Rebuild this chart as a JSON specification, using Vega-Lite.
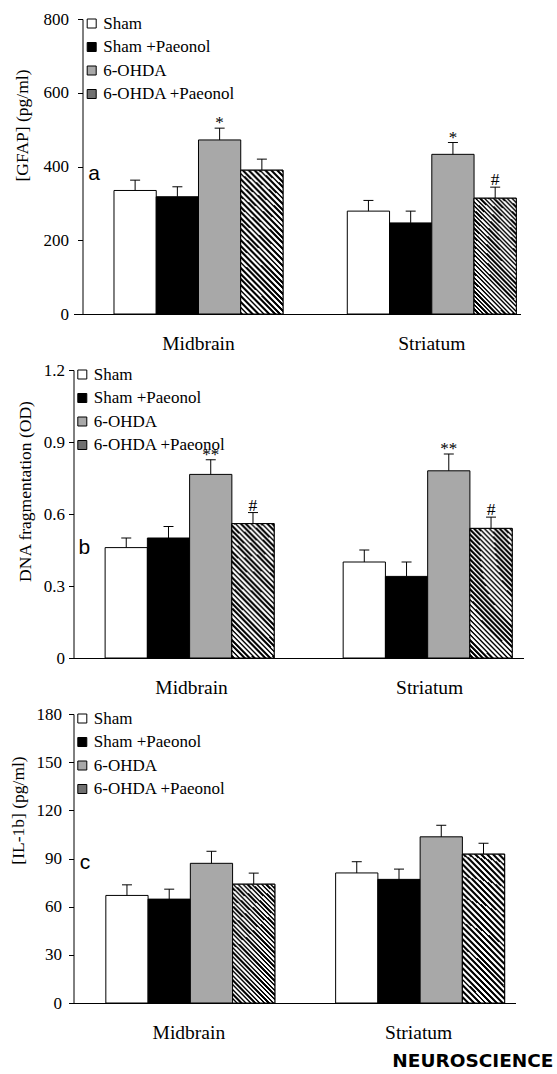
{
"$schema": "https://vega.github.io/schema/vega-lite/v6.json",
"background": "white",
"padding": {"left": 9.5, "top": 10, "right": 0, "bottom": 0},
"spacing": 8,
"datasets": {
"gfap": [
{"region":"Midbrain","group":"Sham","mean":335,"upper":363,"sig":""},
{"region":"Midbrain","group":"Sham +Paeonol","mean":318,"upper":345,"sig":""},
{"region":"Midbrain","group":"6-OHDA","mean":472,"upper":504,"sig":"*"},
{"region":"Midbrain","group":"6-OHDA +Paeonol","mean":390,"upper":420,"sig":""},
{"region":"Striatum","group":"Sham","mean":279,"upper":308,"sig":""},
{"region":"Striatum","group":"Sham +Paeonol","mean":247,"upper":279,"sig":""},
{"region":"Striatum","group":"6-OHDA","mean":433,"upper":465,"sig":"*"},
{"region":"Striatum","group":"6-OHDA +Paeonol","mean":314,"upper":344,"sig":"#"}
],
"dna": [
{"region":"Midbrain","group":"Sham","mean":0.46,"upper":0.50,"sig":""},
{"region":"Midbrain","group":"Sham +Paeonol","mean":0.50,"upper":0.548,"sig":""},
{"region":"Midbrain","group":"6-OHDA","mean":0.765,"upper":0.826,"sig":"**"},
{"region":"Midbrain","group":"6-OHDA +Paeonol","mean":0.56,"upper":0.606,"sig":"#"},
{"region":"Striatum","group":"Sham","mean":0.40,"upper":0.45,"sig":""},
{"region":"Striatum","group":"Sham +Paeonol","mean":0.34,"upper":0.40,"sig":""},
{"region":"Striatum","group":"6-OHDA","mean":0.78,"upper":0.85,"sig":"**"},
{"region":"Striatum","group":"6-OHDA +Paeonol","mean":0.54,"upper":0.587,"sig":"#"}
],
"il1b": [
{"region":"Midbrain","group":"Sham","mean":67,"upper":73.6,"sig":""},
{"region":"Midbrain","group":"Sham +Paeonol","mean":64.7,"upper":70.9,"sig":""},
{"region":"Midbrain","group":"6-OHDA","mean":87,"upper":94.5,"sig":""},
{"region":"Midbrain","group":"6-OHDA +Paeonol","mean":74,"upper":80.9,"sig":""},
{"region":"Striatum","group":"Sham","mean":81,"upper":88,"sig":""},
{"region":"Striatum","group":"Sham +Paeonol","mean":77,"upper":83.4,"sig":""},
{"region":"Striatum","group":"6-OHDA","mean":103.5,"upper":110.7,"sig":""},
{"region":"Striatum","group":"6-OHDA +Paeonol","mean":92.7,"upper":99.5,"sig":""}
]
},
"vconcat": [
{
"width": 447, "height": 295,
"data": {"name": "gfap"},
"encoding": {
"x": {"field": "region", "type": "nominal", "sort": ["Midbrain","Striatum"], "scale": {"paddingInner": 0.2756, "paddingOuter": 0.0958, "align": 0.906}, "axis": {"title": null, "labelAngle": 0, "ticks": false, "tickSize": 0, "labelPadding": 20, "labelFontSize": 19.5}},
"xOffset": {"field": "group", "type": "nominal", "sort": ["Sham","Sham +Paeonol","6-OHDA","6-OHDA +Paeonol"], "scale": {"paddingInner": 0, "paddingOuter": 0}}
},
"layer": [
{"mark": {"type": "bar", "stroke": "#000", "strokeWidth": 1, "opacity": 1},
"encoding": {
"y": {"field": "mean", "type": "quantitative", "scale": {"domain": [0, 800], "nice": false}, "axis": {"title": "[GFAP] (pg/ml)", "values": [0,200,400,600,800], "tickSize": 5, "labelPadding": 9, "titlePadding": 11.5, "titleY": 106, "offset": -9}},
"fill": {"field": "group", "type": "nominal", "scale": {"domain": ["Sham","Sham +Paeonol","6-OHDA","6-OHDA +Paeonol"], "range": ["#ffffff","#000000","#a8a8a8","#707070"]},
"legend": {"orient": "none", "legendX": 9.7, "legendY": -4, "title": null, "padding": 0, "symbolType": "square", "symbolSize": 81, "symbolStrokeColor": "#000", "symbolStrokeWidth": 1, "symbolOpacity": 1, "labelFont": "Liberation Serif", "labelFontSize": 17, "labelColor": "#000", "labelOffset": 3, "rowPadding": 5.5, "labelLimit": 0}}
}},
{"transform": [{"filter": "datum.group === '6-OHDA +Paeonol'"}], "mark": {"type": "bar", "stroke": "#000", "strokeWidth": 1, "fill": {"gradient": "radial", "x1": -20, "y1": 21, "r1": 28.45, "x2": -20, "y2": 21, "r2": 29.55, "stops": [
{"offset":0,"color":"#000"},{"offset":0.0125,"color":"#000"},{"offset":0.0125,"color":"#fff"},{"offset":0.025,"color":"#fff"},{"offset":0.025,"color":"#000"},{"offset":0.0375,"color":"#000"},{"offset":0.0375,"color":"#fff"},{"offset":0.05,"color":"#fff"},{"offset":0.05,"color":"#000"},{"offset":0.0625,"color":"#000"},{"offset":0.0625,"color":"#fff"},{"offset":0.075,"color":"#fff"},{"offset":0.075,"color":"#000"},{"offset":0.0875,"color":"#000"},{"offset":0.0875,"color":"#fff"},{"offset":0.1,"color":"#fff"},{"offset":0.1,"color":"#000"},{"offset":0.1125,"color":"#000"},{"offset":0.1125,"color":"#fff"},{"offset":0.125,"color":"#fff"},{"offset":0.125,"color":"#000"},{"offset":0.1375,"color":"#000"},{"offset":0.1375,"color":"#fff"},{"offset":0.15,"color":"#fff"},{"offset":0.15,"color":"#000"},{"offset":0.1625,"color":"#000"},{"offset":0.1625,"color":"#fff"},{"offset":0.175,"color":"#fff"},{"offset":0.175,"color":"#000"},{"offset":0.1875,"color":"#000"},{"offset":0.1875,"color":"#fff"},{"offset":0.2,"color":"#fff"},{"offset":0.2,"color":"#000"},{"offset":0.2125,"color":"#000"},{"offset":0.2125,"color":"#fff"},{"offset":0.225,"color":"#fff"},{"offset":0.225,"color":"#000"},{"offset":0.2375,"color":"#000"},{"offset":0.2375,"color":"#fff"},{"offset":0.25,"color":"#fff"},{"offset":0.25,"color":"#000"},{"offset":0.2625,"color":"#000"},{"offset":0.2625,"color":"#fff"},{"offset":0.275,"color":"#fff"},{"offset":0.275,"color":"#000"},{"offset":0.2875,"color":"#000"},{"offset":0.2875,"color":"#fff"},{"offset":0.3,"color":"#fff"},{"offset":0.3,"color":"#000"},{"offset":0.3125,"color":"#000"},{"offset":0.3125,"color":"#fff"},{"offset":0.325,"color":"#fff"},{"offset":0.325,"color":"#000"},{"offset":0.3375,"color":"#000"},{"offset":0.3375,"color":"#fff"},{"offset":0.35,"color":"#fff"},{"offset":0.35,"color":"#000"},{"offset":0.3625,"color":"#000"},{"offset":0.3625,"color":"#fff"},{"offset":0.375,"color":"#fff"},{"offset":0.375,"color":"#000"},{"offset":0.3875,"color":"#000"},{"offset":0.3875,"color":"#fff"},{"offset":0.4,"color":"#fff"},{"offset":0.4,"color":"#000"},{"offset":0.4125,"color":"#000"},{"offset":0.4125,"color":"#fff"},{"offset":0.425,"color":"#fff"},{"offset":0.425,"color":"#000"},{"offset":0.4375,"color":"#000"},{"offset":0.4375,"color":"#fff"},{"offset":0.45,"color":"#fff"},{"offset":0.45,"color":"#000"},{"offset":0.4625,"color":"#000"},{"offset":0.4625,"color":"#fff"},{"offset":0.475,"color":"#fff"},{"offset":0.475,"color":"#000"},{"offset":0.4875,"color":"#000"},{"offset":0.4875,"color":"#fff"},{"offset":0.5,"color":"#fff"},{"offset":0.5,"color":"#000"},{"offset":0.5125,"color":"#000"},{"offset":0.5125,"color":"#fff"},{"offset":0.525,"color":"#fff"},{"offset":0.525,"color":"#000"},{"offset":0.5375,"color":"#000"},{"offset":0.5375,"color":"#fff"},{"offset":0.55,"color":"#fff"},{"offset":0.55,"color":"#000"},{"offset":0.5625,"color":"#000"},{"offset":0.5625,"color":"#fff"},{"offset":0.575,"color":"#fff"},{"offset":0.575,"color":"#000"},{"offset":0.5875,"color":"#000"},{"offset":0.5875,"color":"#fff"},{"offset":0.6,"color":"#fff"},{"offset":0.6,"color":"#000"},{"offset":0.6125,"color":"#000"},{"offset":0.6125,"color":"#fff"},{"offset":0.625,"color":"#fff"},{"offset":0.625,"color":"#000"},{"offset":0.6375,"color":"#000"},{"offset":0.6375,"color":"#fff"},{"offset":0.65,"color":"#fff"},{"offset":0.65,"color":"#000"},{"offset":0.6625,"color":"#000"},{"offset":0.6625,"color":"#fff"},{"offset":0.675,"color":"#fff"},{"offset":0.675,"color":"#000"},{"offset":0.6875,"color":"#000"},{"offset":0.6875,"color":"#fff"},{"offset":0.7,"color":"#fff"},{"offset":0.7,"color":"#000"},{"offset":0.7125,"color":"#000"},{"offset":0.7125,"color":"#fff"},{"offset":0.725,"color":"#fff"},{"offset":0.725,"color":"#000"},{"offset":0.7375,"color":"#000"},{"offset":0.7375,"color":"#fff"},{"offset":0.75,"color":"#fff"},{"offset":0.75,"color":"#000"},{"offset":0.7625,"color":"#000"},{"offset":0.7625,"color":"#fff"},{"offset":0.775,"color":"#fff"},{"offset":0.775,"color":"#000"},{"offset":0.7875,"color":"#000"},{"offset":0.7875,"color":"#fff"},{"offset":0.8,"color":"#fff"},{"offset":0.8,"color":"#000"},{"offset":0.8125,"color":"#000"},{"offset":0.8125,"color":"#fff"},{"offset":0.825,"color":"#fff"},{"offset":0.825,"color":"#000"},{"offset":0.8375,"color":"#000"},{"offset":0.8375,"color":"#fff"},{"offset":0.85,"color":"#fff"},{"offset":0.85,"color":"#000"},{"offset":0.8625,"color":"#000"},{"offset":0.8625,"color":"#fff"},{"offset":0.875,"color":"#fff"},{"offset":0.875,"color":"#000"},{"offset":0.8875,"color":"#000"},{"offset":0.8875,"color":"#fff"},{"offset":0.9,"color":"#fff"},{"offset":0.9,"color":"#000"},{"offset":0.9125,"color":"#000"},{"offset":0.9125,"color":"#fff"},{"offset":0.925,"color":"#fff"},{"offset":0.925,"color":"#000"},{"offset":0.9375,"color":"#000"},{"offset":0.9375,"color":"#fff"},{"offset":0.95,"color":"#fff"},{"offset":0.95,"color":"#000"},{"offset":0.9625,"color":"#000"},{"offset":0.9625,"color":"#fff"},{"offset":0.975,"color":"#fff"},{"offset":0.975,"color":"#000"},{"offset":0.9875,"color":"#000"},{"offset":0.9875,"color":"#fff"},{"offset":1,"color":"#fff"}]}},
"encoding": {"y": {"field": "mean", "type": "quantitative"}}},
{"mark": {"type": "rule", "color": "#000", "strokeWidth": 1},
"encoding": {"y": {"field": "mean", "type": "quantitative"}, "y2": {"field": "upper"}}},
{"mark": {"type": "tick", "color": "#000", "thickness": 1, "size": 10, "orient": "horizontal", "opacity": 1},
"encoding": {"y": {"field": "upper", "type": "quantitative"}}},
{"transform": [{"filter": "indexof(datum.sig, '*') >= 0"}], "mark": {"type": "text", "baseline": "alphabetic", "dy": 0, "fontSize": 17, "font": "Liberation Serif", "color": "#000"},
"encoding": {"y": {"field": "upper", "type": "quantitative"}, "text": {"field": "sig"}}},
{"transform": [{"filter": "datum.sig === '#'"}], "mark": {"type": "text", "baseline": "alphabetic", "dy": -2, "fontSize": 17.5, "font": "Liberation Serif", "color": "#000"},
"encoding": {"y": {"field": "upper", "type": "quantitative"}, "text": {"field": "sig"}}},
{"data": {"values": [{}]}, "mark": {"type": "text", "text": "a", "font": "Liberation Sans", "fontSize": 21, "dx": -41, "baseline": "alphabetic", "color": "#000"},
"encoding": {"x": {"datum": "Midbrain"}, "xOffset": {"datum": "Sham"}, "y": {"datum": 364}}}
]
},
{
"width": 450, "height": 288,
"data": {"name": "dna"},
"encoding": {
"x": {"field": "region", "type": "nominal", "sort": ["Midbrain","Striatum"], "scale": {"paddingInner": 0.2736, "paddingOuter": 0.082, "align": 0.81}, "axis": {"title": null, "labelAngle": 0, "ticks": false, "tickSize": 0, "labelPadding": 20, "labelFontSize": 19.5}},
"xOffset": {"field": "group", "type": "nominal", "sort": ["Sham","Sham +Paeonol","6-OHDA","6-OHDA +Paeonol"], "scale": {"paddingInner": 0, "paddingOuter": 0}}
},
"layer": [
{"mark": {"type": "bar", "stroke": "#000", "strokeWidth": 1, "opacity": 1},
"encoding": {
"y": {"field": "mean", "type": "quantitative", "scale": {"domain": [0, 1.2], "nice": false}, "axis": {"title": "DNA fragmentation (OD)", "values": [0,0.3,0.6,0.9,1.2], "format": ".1~f", "tickSize": 5, "labelPadding": 4, "titlePadding": 9.25, "titleY": 121}},
"fill": {"field": "group", "type": "nominal", "scale": {"domain": ["Sham","Sham +Paeonol","6-OHDA","6-OHDA +Paeonol"], "range": ["#ffffff","#000000","#a8a8a8","#707070"]},
"legend": {"orient": "none", "legendX": 0.3, "legendY": -4, "title": null, "padding": 0, "symbolType": "square", "symbolSize": 81, "symbolStrokeColor": "#000", "symbolStrokeWidth": 1, "symbolOpacity": 1, "labelFont": "Liberation Serif", "labelFontSize": 17, "labelColor": "#000", "labelOffset": 3, "rowPadding": 5.5, "labelLimit": 0}}
}},
{"transform": [{"filter": "datum.group === '6-OHDA +Paeonol'"}], "mark": {"type": "bar", "stroke": "#000", "strokeWidth": 1, "fill": {"gradient": "radial", "x1": -20, "y1": 21, "r1": 28.45, "x2": -20, "y2": 21, "r2": 29.55, "stops": [
{"offset":0,"color":"#000"},{"offset":0.0125,"color":"#000"},{"offset":0.0125,"color":"#fff"},{"offset":0.025,"color":"#fff"},{"offset":0.025,"color":"#000"},{"offset":0.0375,"color":"#000"},{"offset":0.0375,"color":"#fff"},{"offset":0.05,"color":"#fff"},{"offset":0.05,"color":"#000"},{"offset":0.0625,"color":"#000"},{"offset":0.0625,"color":"#fff"},{"offset":0.075,"color":"#fff"},{"offset":0.075,"color":"#000"},{"offset":0.0875,"color":"#000"},{"offset":0.0875,"color":"#fff"},{"offset":0.1,"color":"#fff"},{"offset":0.1,"color":"#000"},{"offset":0.1125,"color":"#000"},{"offset":0.1125,"color":"#fff"},{"offset":0.125,"color":"#fff"},{"offset":0.125,"color":"#000"},{"offset":0.1375,"color":"#000"},{"offset":0.1375,"color":"#fff"},{"offset":0.15,"color":"#fff"},{"offset":0.15,"color":"#000"},{"offset":0.1625,"color":"#000"},{"offset":0.1625,"color":"#fff"},{"offset":0.175,"color":"#fff"},{"offset":0.175,"color":"#000"},{"offset":0.1875,"color":"#000"},{"offset":0.1875,"color":"#fff"},{"offset":0.2,"color":"#fff"},{"offset":0.2,"color":"#000"},{"offset":0.2125,"color":"#000"},{"offset":0.2125,"color":"#fff"},{"offset":0.225,"color":"#fff"},{"offset":0.225,"color":"#000"},{"offset":0.2375,"color":"#000"},{"offset":0.2375,"color":"#fff"},{"offset":0.25,"color":"#fff"},{"offset":0.25,"color":"#000"},{"offset":0.2625,"color":"#000"},{"offset":0.2625,"color":"#fff"},{"offset":0.275,"color":"#fff"},{"offset":0.275,"color":"#000"},{"offset":0.2875,"color":"#000"},{"offset":0.2875,"color":"#fff"},{"offset":0.3,"color":"#fff"},{"offset":0.3,"color":"#000"},{"offset":0.3125,"color":"#000"},{"offset":0.3125,"color":"#fff"},{"offset":0.325,"color":"#fff"},{"offset":0.325,"color":"#000"},{"offset":0.3375,"color":"#000"},{"offset":0.3375,"color":"#fff"},{"offset":0.35,"color":"#fff"},{"offset":0.35,"color":"#000"},{"offset":0.3625,"color":"#000"},{"offset":0.3625,"color":"#fff"},{"offset":0.375,"color":"#fff"},{"offset":0.375,"color":"#000"},{"offset":0.3875,"color":"#000"},{"offset":0.3875,"color":"#fff"},{"offset":0.4,"color":"#fff"},{"offset":0.4,"color":"#000"},{"offset":0.4125,"color":"#000"},{"offset":0.4125,"color":"#fff"},{"offset":0.425,"color":"#fff"},{"offset":0.425,"color":"#000"},{"offset":0.4375,"color":"#000"},{"offset":0.4375,"color":"#fff"},{"offset":0.45,"color":"#fff"},{"offset":0.45,"color":"#000"},{"offset":0.4625,"color":"#000"},{"offset":0.4625,"color":"#fff"},{"offset":0.475,"color":"#fff"},{"offset":0.475,"color":"#000"},{"offset":0.4875,"color":"#000"},{"offset":0.4875,"color":"#fff"},{"offset":0.5,"color":"#fff"},{"offset":0.5,"color":"#000"},{"offset":0.5125,"color":"#000"},{"offset":0.5125,"color":"#fff"},{"offset":0.525,"color":"#fff"},{"offset":0.525,"color":"#000"},{"offset":0.5375,"color":"#000"},{"offset":0.5375,"color":"#fff"},{"offset":0.55,"color":"#fff"},{"offset":0.55,"color":"#000"},{"offset":0.5625,"color":"#000"},{"offset":0.5625,"color":"#fff"},{"offset":0.575,"color":"#fff"},{"offset":0.575,"color":"#000"},{"offset":0.5875,"color":"#000"},{"offset":0.5875,"color":"#fff"},{"offset":0.6,"color":"#fff"},{"offset":0.6,"color":"#000"},{"offset":0.6125,"color":"#000"},{"offset":0.6125,"color":"#fff"},{"offset":0.625,"color":"#fff"},{"offset":0.625,"color":"#000"},{"offset":0.6375,"color":"#000"},{"offset":0.6375,"color":"#fff"},{"offset":0.65,"color":"#fff"},{"offset":0.65,"color":"#000"},{"offset":0.6625,"color":"#000"},{"offset":0.6625,"color":"#fff"},{"offset":0.675,"color":"#fff"},{"offset":0.675,"color":"#000"},{"offset":0.6875,"color":"#000"},{"offset":0.6875,"color":"#fff"},{"offset":0.7,"color":"#fff"},{"offset":0.7,"color":"#000"},{"offset":0.7125,"color":"#000"},{"offset":0.7125,"color":"#fff"},{"offset":0.725,"color":"#fff"},{"offset":0.725,"color":"#000"},{"offset":0.7375,"color":"#000"},{"offset":0.7375,"color":"#fff"},{"offset":0.75,"color":"#fff"},{"offset":0.75,"color":"#000"},{"offset":0.7625,"color":"#000"},{"offset":0.7625,"color":"#fff"},{"offset":0.775,"color":"#fff"},{"offset":0.775,"color":"#000"},{"offset":0.7875,"color":"#000"},{"offset":0.7875,"color":"#fff"},{"offset":0.8,"color":"#fff"},{"offset":0.8,"color":"#000"},{"offset":0.8125,"color":"#000"},{"offset":0.8125,"color":"#fff"},{"offset":0.825,"color":"#fff"},{"offset":0.825,"color":"#000"},{"offset":0.8375,"color":"#000"},{"offset":0.8375,"color":"#fff"},{"offset":0.85,"color":"#fff"},{"offset":0.85,"color":"#000"},{"offset":0.8625,"color":"#000"},{"offset":0.8625,"color":"#fff"},{"offset":0.875,"color":"#fff"},{"offset":0.875,"color":"#000"},{"offset":0.8875,"color":"#000"},{"offset":0.8875,"color":"#fff"},{"offset":0.9,"color":"#fff"},{"offset":0.9,"color":"#000"},{"offset":0.9125,"color":"#000"},{"offset":0.9125,"color":"#fff"},{"offset":0.925,"color":"#fff"},{"offset":0.925,"color":"#000"},{"offset":0.9375,"color":"#000"},{"offset":0.9375,"color":"#fff"},{"offset":0.95,"color":"#fff"},{"offset":0.95,"color":"#000"},{"offset":0.9625,"color":"#000"},{"offset":0.9625,"color":"#fff"},{"offset":0.975,"color":"#fff"},{"offset":0.975,"color":"#000"},{"offset":0.9875,"color":"#000"},{"offset":0.9875,"color":"#fff"},{"offset":1,"color":"#fff"}]}},
"encoding": {"y": {"field": "mean", "type": "quantitative"}}},
{"mark": {"type": "rule", "color": "#000", "strokeWidth": 1},
"encoding": {"y": {"field": "mean", "type": "quantitative"}, "y2": {"field": "upper"}}},
{"mark": {"type": "tick", "color": "#000", "thickness": 1, "size": 10, "orient": "horizontal", "opacity": 1},
"encoding": {"y": {"field": "upper", "type": "quantitative"}}},
{"transform": [{"filter": "indexof(datum.sig, '*') >= 0"}], "mark": {"type": "text", "baseline": "alphabetic", "dy": 0, "fontSize": 17, "font": "Liberation Serif", "color": "#000"},
"encoding": {"y": {"field": "upper", "type": "quantitative"}, "text": {"field": "sig"}}},
{"transform": [{"filter": "datum.sig === '#'"}], "mark": {"type": "text", "baseline": "alphabetic", "dy": -2, "fontSize": 17.5, "font": "Liberation Serif", "color": "#000"},
"encoding": {"y": {"field": "upper", "type": "quantitative"}, "text": {"field": "sig"}}},
{"data": {"values": [{}]}, "mark": {"type": "text", "text": "b", "font": "Liberation Sans", "fontSize": 21, "dx": -42, "baseline": "alphabetic", "color": "#000"},
"encoding": {"x": {"datum": "Midbrain"}, "xOffset": {"datum": "Sham"}, "y": {"datum": 0.435}}}
]
},
{
"width": 442, "height": 289,
"data": {"name": "il1b"},
"encoding": {
"x": {"field": "region", "type": "nominal", "sort": ["Midbrain","Striatum"], "scale": {"paddingInner": 0.2776, "paddingOuter": 0.1005, "align": 0.7}, "axis": {"title": null, "labelAngle": 0, "ticks": false, "tickSize": 0, "labelPadding": 20, "labelFontSize": 19.5}},
"xOffset": {"field": "group", "type": "nominal", "sort": ["Sham","Sham +Paeonol","6-OHDA","6-OHDA +Paeonol"], "scale": {"paddingInner": 0, "paddingOuter": 0}}
},
"layer": [
{"mark": {"type": "bar", "stroke": "#000", "strokeWidth": 1, "opacity": 1},
"encoding": {
"y": {"field": "mean", "type": "quantitative", "scale": {"domain": [0, 180], "nice": false}, "axis": {"title": "[IL-1b] (pg/ml)", "values": [0,30,60,90,120,150,180], "tickSize": 5, "labelPadding": 7, "titlePadding": 8.5, "titleY": 96}},
"fill": {"field": "group", "type": "nominal", "scale": {"domain": ["Sham","Sham +Paeonol","6-OHDA","6-OHDA +Paeonol"], "range": ["#ffffff","#000000","#a8a8a8","#707070"]},
"legend": {"orient": "none", "legendX": 0.3, "legendY": -4, "title": null, "padding": 0, "symbolType": "square", "symbolSize": 81, "symbolStrokeColor": "#000", "symbolStrokeWidth": 1, "symbolOpacity": 1, "labelFont": "Liberation Serif", "labelFontSize": 17, "labelColor": "#000", "labelOffset": 3, "rowPadding": 5.5, "labelLimit": 0}}
}},
{"transform": [{"filter": "datum.group === '6-OHDA +Paeonol'"}], "mark": {"type": "bar", "stroke": "#000", "strokeWidth": 1, "fill": {"gradient": "radial", "x1": -20, "y1": 21, "r1": 28.45, "x2": -20, "y2": 21, "r2": 29.55, "stops": [
{"offset":0,"color":"#000"},{"offset":0.0125,"color":"#000"},{"offset":0.0125,"color":"#fff"},{"offset":0.025,"color":"#fff"},{"offset":0.025,"color":"#000"},{"offset":0.0375,"color":"#000"},{"offset":0.0375,"color":"#fff"},{"offset":0.05,"color":"#fff"},{"offset":0.05,"color":"#000"},{"offset":0.0625,"color":"#000"},{"offset":0.0625,"color":"#fff"},{"offset":0.075,"color":"#fff"},{"offset":0.075,"color":"#000"},{"offset":0.0875,"color":"#000"},{"offset":0.0875,"color":"#fff"},{"offset":0.1,"color":"#fff"},{"offset":0.1,"color":"#000"},{"offset":0.1125,"color":"#000"},{"offset":0.1125,"color":"#fff"},{"offset":0.125,"color":"#fff"},{"offset":0.125,"color":"#000"},{"offset":0.1375,"color":"#000"},{"offset":0.1375,"color":"#fff"},{"offset":0.15,"color":"#fff"},{"offset":0.15,"color":"#000"},{"offset":0.1625,"color":"#000"},{"offset":0.1625,"color":"#fff"},{"offset":0.175,"color":"#fff"},{"offset":0.175,"color":"#000"},{"offset":0.1875,"color":"#000"},{"offset":0.1875,"color":"#fff"},{"offset":0.2,"color":"#fff"},{"offset":0.2,"color":"#000"},{"offset":0.2125,"color":"#000"},{"offset":0.2125,"color":"#fff"},{"offset":0.225,"color":"#fff"},{"offset":0.225,"color":"#000"},{"offset":0.2375,"color":"#000"},{"offset":0.2375,"color":"#fff"},{"offset":0.25,"color":"#fff"},{"offset":0.25,"color":"#000"},{"offset":0.2625,"color":"#000"},{"offset":0.2625,"color":"#fff"},{"offset":0.275,"color":"#fff"},{"offset":0.275,"color":"#000"},{"offset":0.2875,"color":"#000"},{"offset":0.2875,"color":"#fff"},{"offset":0.3,"color":"#fff"},{"offset":0.3,"color":"#000"},{"offset":0.3125,"color":"#000"},{"offset":0.3125,"color":"#fff"},{"offset":0.325,"color":"#fff"},{"offset":0.325,"color":"#000"},{"offset":0.3375,"color":"#000"},{"offset":0.3375,"color":"#fff"},{"offset":0.35,"color":"#fff"},{"offset":0.35,"color":"#000"},{"offset":0.3625,"color":"#000"},{"offset":0.3625,"color":"#fff"},{"offset":0.375,"color":"#fff"},{"offset":0.375,"color":"#000"},{"offset":0.3875,"color":"#000"},{"offset":0.3875,"color":"#fff"},{"offset":0.4,"color":"#fff"},{"offset":0.4,"color":"#000"},{"offset":0.4125,"color":"#000"},{"offset":0.4125,"color":"#fff"},{"offset":0.425,"color":"#fff"},{"offset":0.425,"color":"#000"},{"offset":0.4375,"color":"#000"},{"offset":0.4375,"color":"#fff"},{"offset":0.45,"color":"#fff"},{"offset":0.45,"color":"#000"},{"offset":0.4625,"color":"#000"},{"offset":0.4625,"color":"#fff"},{"offset":0.475,"color":"#fff"},{"offset":0.475,"color":"#000"},{"offset":0.4875,"color":"#000"},{"offset":0.4875,"color":"#fff"},{"offset":0.5,"color":"#fff"},{"offset":0.5,"color":"#000"},{"offset":0.5125,"color":"#000"},{"offset":0.5125,"color":"#fff"},{"offset":0.525,"color":"#fff"},{"offset":0.525,"color":"#000"},{"offset":0.5375,"color":"#000"},{"offset":0.5375,"color":"#fff"},{"offset":0.55,"color":"#fff"},{"offset":0.55,"color":"#000"},{"offset":0.5625,"color":"#000"},{"offset":0.5625,"color":"#fff"},{"offset":0.575,"color":"#fff"},{"offset":0.575,"color":"#000"},{"offset":0.5875,"color":"#000"},{"offset":0.5875,"color":"#fff"},{"offset":0.6,"color":"#fff"},{"offset":0.6,"color":"#000"},{"offset":0.6125,"color":"#000"},{"offset":0.6125,"color":"#fff"},{"offset":0.625,"color":"#fff"},{"offset":0.625,"color":"#000"},{"offset":0.6375,"color":"#000"},{"offset":0.6375,"color":"#fff"},{"offset":0.65,"color":"#fff"},{"offset":0.65,"color":"#000"},{"offset":0.6625,"color":"#000"},{"offset":0.6625,"color":"#fff"},{"offset":0.675,"color":"#fff"},{"offset":0.675,"color":"#000"},{"offset":0.6875,"color":"#000"},{"offset":0.6875,"color":"#fff"},{"offset":0.7,"color":"#fff"},{"offset":0.7,"color":"#000"},{"offset":0.7125,"color":"#000"},{"offset":0.7125,"color":"#fff"},{"offset":0.725,"color":"#fff"},{"offset":0.725,"color":"#000"},{"offset":0.7375,"color":"#000"},{"offset":0.7375,"color":"#fff"},{"offset":0.75,"color":"#fff"},{"offset":0.75,"color":"#000"},{"offset":0.7625,"color":"#000"},{"offset":0.7625,"color":"#fff"},{"offset":0.775,"color":"#fff"},{"offset":0.775,"color":"#000"},{"offset":0.7875,"color":"#000"},{"offset":0.7875,"color":"#fff"},{"offset":0.8,"color":"#fff"},{"offset":0.8,"color":"#000"},{"offset":0.8125,"color":"#000"},{"offset":0.8125,"color":"#fff"},{"offset":0.825,"color":"#fff"},{"offset":0.825,"color":"#000"},{"offset":0.8375,"color":"#000"},{"offset":0.8375,"color":"#fff"},{"offset":0.85,"color":"#fff"},{"offset":0.85,"color":"#000"},{"offset":0.8625,"color":"#000"},{"offset":0.8625,"color":"#fff"},{"offset":0.875,"color":"#fff"},{"offset":0.875,"color":"#000"},{"offset":0.8875,"color":"#000"},{"offset":0.8875,"color":"#fff"},{"offset":0.9,"color":"#fff"},{"offset":0.9,"color":"#000"},{"offset":0.9125,"color":"#000"},{"offset":0.9125,"color":"#fff"},{"offset":0.925,"color":"#fff"},{"offset":0.925,"color":"#000"},{"offset":0.9375,"color":"#000"},{"offset":0.9375,"color":"#fff"},{"offset":0.95,"color":"#fff"},{"offset":0.95,"color":"#000"},{"offset":0.9625,"color":"#000"},{"offset":0.9625,"color":"#fff"},{"offset":0.975,"color":"#fff"},{"offset":0.975,"color":"#000"},{"offset":0.9875,"color":"#000"},{"offset":0.9875,"color":"#fff"},{"offset":1,"color":"#fff"}]}},
"encoding": {"y": {"field": "mean", "type": "quantitative"}}},
{"mark": {"type": "rule", "color": "#000", "strokeWidth": 1},
"encoding": {"y": {"field": "mean", "type": "quantitative"}, "y2": {"field": "upper"}}},
{"mark": {"type": "tick", "color": "#000", "thickness": 1, "size": 10, "orient": "horizontal", "opacity": 1},
"encoding": {"y": {"field": "upper", "type": "quantitative"}}},
{"data": {"values": [{}]}, "mark": {"type": "text", "text": "c", "font": "Liberation Sans", "fontSize": 21, "dx": -42, "baseline": "alphabetic", "color": "#000"},
"encoding": {"x": {"datum": "Midbrain"}, "xOffset": {"datum": "Sham"}, "y": {"datum": 83.2}}}
]
}
],
"resolve": {"scale": {"fill": "independent"}, "legend": {"fill": "independent"}},
"title": {"text": "NEUROSCIENCE", "orient": "bottom", "anchor": "end", "font": "DejaVu Sans", "fontSize": 18.5, "fontWeight": "bold", "color": "#000", "offset": 10, "dx": 30},
"config": {
"view": {"stroke": null},
"font": "Liberation Serif",
"axis": {"domainColor": "#000", "tickColor": "#000", "labelColor": "#000", "titleColor": "#000", "labelFont": "Liberation Serif", "titleFont": "Liberation Serif", "labelFontSize": 17, "titleFontSize": 17.5, "titleFontWeight": "normal", "grid": false, "domainWidth": 1, "tickWidth": 1}
}
}
